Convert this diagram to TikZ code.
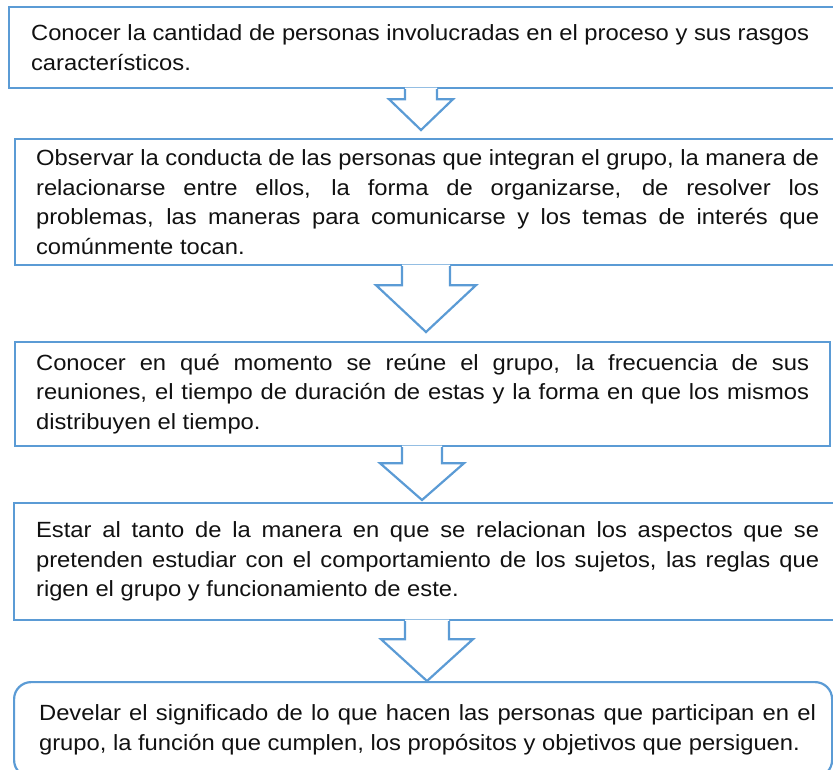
\documentclass[tikz,border=0pt]{standalone}
\usepackage{fontspec}
\setmainfont{Liberation Sans}[FakeStretch=1.08]
\usetikzlibrary{calc}
\definecolor{boxblue}{HTML}{5B9BD5}
\definecolor{txt}{HTML}{111111}
\tikzset{
  stepbox/.style={draw=boxblue, line width=2.2pt, anchor=north west, inner sep=0pt,
    align=left, text=txt, font={\fontsize{22pt}{29.5pt}\selectfont}},
  arrowline/.style={draw=boxblue, line width=2.2pt, line join=miter},
}
% justified line of given width; plain (ragged) line
\newcommand{\jline}[2]{\makebox[#1][s]{\spaceskip=0pt\relax\xspaceskip=0pt\relax #2}}
\newcommand{\lline}[2]{\makebox[#1][l]{\spaceskip=0pt\relax\xspaceskip=0pt\relax #2}}
% #1 from node, #2 to node, #3 centre x, #4 shaft half width, #5 head half width, #6 shaft length, #7 gap above target
\newcommand{\blkarrow}[7]{%
  \fill[white] let \p1=(#1.south), \p2=(#2.north) in
    ({(#3-#4)*1pt},{\y1+1.6pt}) -- ({(#3-#4)*1pt},{\y1-#6pt}) -- ({(#3-#5)*1pt},{\y1-#6pt})
    -- ({#3*1pt},{\y2+#7pt}) -- ({(#3+#5)*1pt},{\y1-#6pt}) -- ({(#3+#4)*1pt},{\y1-#6pt})
    -- ({(#3+#4)*1pt},{\y1+1.6pt}) -- cycle;
  \draw[arrowline] let \p1=(#1.south), \p2=(#2.north) in
    ({(#3-#4)*1pt},{\y1}) -- ({(#3-#4)*1pt},{\y1-#6pt}) -- ({(#3-#5)*1pt},{\y1-#6pt})
    -- ({#3*1pt},{\y2+#7pt}) -- ({(#3+#5)*1pt},{\y1-#6pt}) -- ({(#3+#4)*1pt},{\y1-#6pt})
    -- ({(#3+#4)*1pt},{\y1});
}
\begin{document}
\begin{tikzpicture}[x=1pt,y=-1pt]
\useasboundingbox (0,0) rectangle (833,769);
\clip (0,0) rectangle (833,769);

\node[stepbox, minimum width=834pt, minimum height=81pt, text width=790pt] (b1) at (8,6)
  {\lline{790pt}{\jline{778pt}{Conocer la cantidad de personas involucradas en el proceso y sus rasgos}}\\
   \lline{790pt}{característicos.}};

\node[stepbox, minimum width=825pt, minimum height=126pt, text width=783pt] (b2) at (14,138)
  {\jline{783pt}{Observar la conducta de las personas que integran el grupo, la manera de}\\
   \jline{783pt}{relacionarse entre ellos, la forma de organizarse, de resolver los}\\
   \jline{783pt}{problemas, las maneras para comunicarse y los temas de interés que}\\
   \lline{783pt}{comúnmente tocan.}};

\node[stepbox, minimum width=815pt, minimum height=104pt, text width=773pt] (b3) at (14,341)
  {\jline{773pt}{Conocer en qué momento se reúne el grupo, la frecuencia de sus}\\
   \jline{773pt}{reuniones, el tiempo de duración de estas y la forma en que los mismos}\\
   \lline{773pt}{distribuyen el tiempo.}};

\node[stepbox, minimum width=827pt, minimum height=117pt, text width=783pt] (b4) at (13,502)
  {\jline{783pt}{Estar al tanto de la manera en que se relacionan los aspectos que se}\\
   \jline{783pt}{pretenden estudiar con el comportamiento de los sujetos, las reglas que}\\
   \lline{783pt}{rigen el grupo y funcionamiento de este.}};

\node[stepbox, rounded corners=17pt, minimum width=818pt, minimum height=95pt, text width=768pt] (b5) at (13,681)
  {\lline{768pt}{\jline{777pt}{Develar el significado de lo que hacen las personas que participan en el}}\\
   \lline{768pt}{grupo, la función que cumplen, los propósitos y objetivos que persiguen.}};

\blkarrow{b1}{b2}{421}{16}{32}{10}{8}
\blkarrow{b2}{b3}{426}{24}{50}{19}{9}
\blkarrow{b3}{b4}{422}{20}{42}{16}{2}
\blkarrow{b4}{b5}{427}{22}{46}{18}{0}
\end{tikzpicture}
\end{document}
